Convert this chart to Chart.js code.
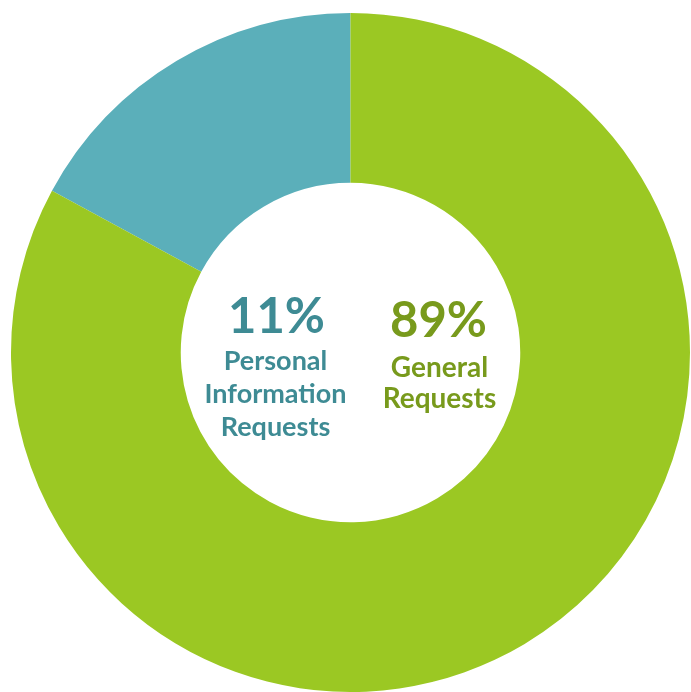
<!DOCTYPE html>
<html>
<head>
<meta charset="utf-8">
<script src="https://cdn.jsdelivr.net/npm/chart.js@4"></script>
<style>
  html,body{margin:0;padding:0;background:#fff;}
  #wrap{width:691px;height:692px;}
</style>
</head>
<body>
<div id="wrap"><canvas id="c"></canvas></div>
<script>
// Data (slice sizes read from the drawn ring; labels as printed)
const categories=['Personal Information Requests','General Requests'];
const sliceValues=[17.1,82.9];
const pctLabels=['11%','89%'];
const sliceColors=['#5BAFBA','#9BC823'];
const textColors=['#3E8B94','#789A1C'];

const FONT='Lato, "Open Sans", sans-serif';

// Center labels drawn relative to the doughnut centre
const centerText={
  id:'centerText',
  afterDraw(chart){
    const arc=chart.getDatasetMeta(0).data[0];
    const cx=arc.x, cy=arc.y;
    const ctx=chart.ctx;
    ctx.save();
    ctx.textAlign='center';
    ctx.textBaseline='middle';
    // left: personal
    ctx.fillStyle=textColors[0];
    ctx.font='bold 49px '+FONT;
    ctx.fillText(pctLabels[0],cx-74,cy-35);
    ctx.font='bold 27px '+FONT;
    ['Personal','Information','Requests'].forEach((t,i)=>ctx.fillText(t,cx-75,cy+9+i*33));
    // right: general
    ctx.fillStyle=textColors[1];
    ctx.font='bold 49px '+FONT;
    ctx.fillText(pctLabels[1],cx+88,cy-31);
    ctx.font='bold 28px '+FONT;
    ['General','Requests'].forEach((t,i)=>ctx.fillText(t,cx+89,cy+15+i*31));
    ctx.restore();
  }
};

new Chart(document.getElementById('c').getContext('2d'),{
  type:'doughnut',
  data:{
    labels:categories,
    datasets:[{data:sliceValues,backgroundColor:sliceColors,borderWidth:0}]
  },
  options:{
    responsive:true,maintainAspectRatio:false,animation:false,
    cutout:'50%',rotation:-sliceValues[0]/100*360,
    layout:{padding:{left:10,right:0,top:13,bottom:0}},
    plugins:{legend:{display:false},tooltip:{enabled:false}}
  },
  plugins:[centerText]
});
</script>
</body>
</html>
